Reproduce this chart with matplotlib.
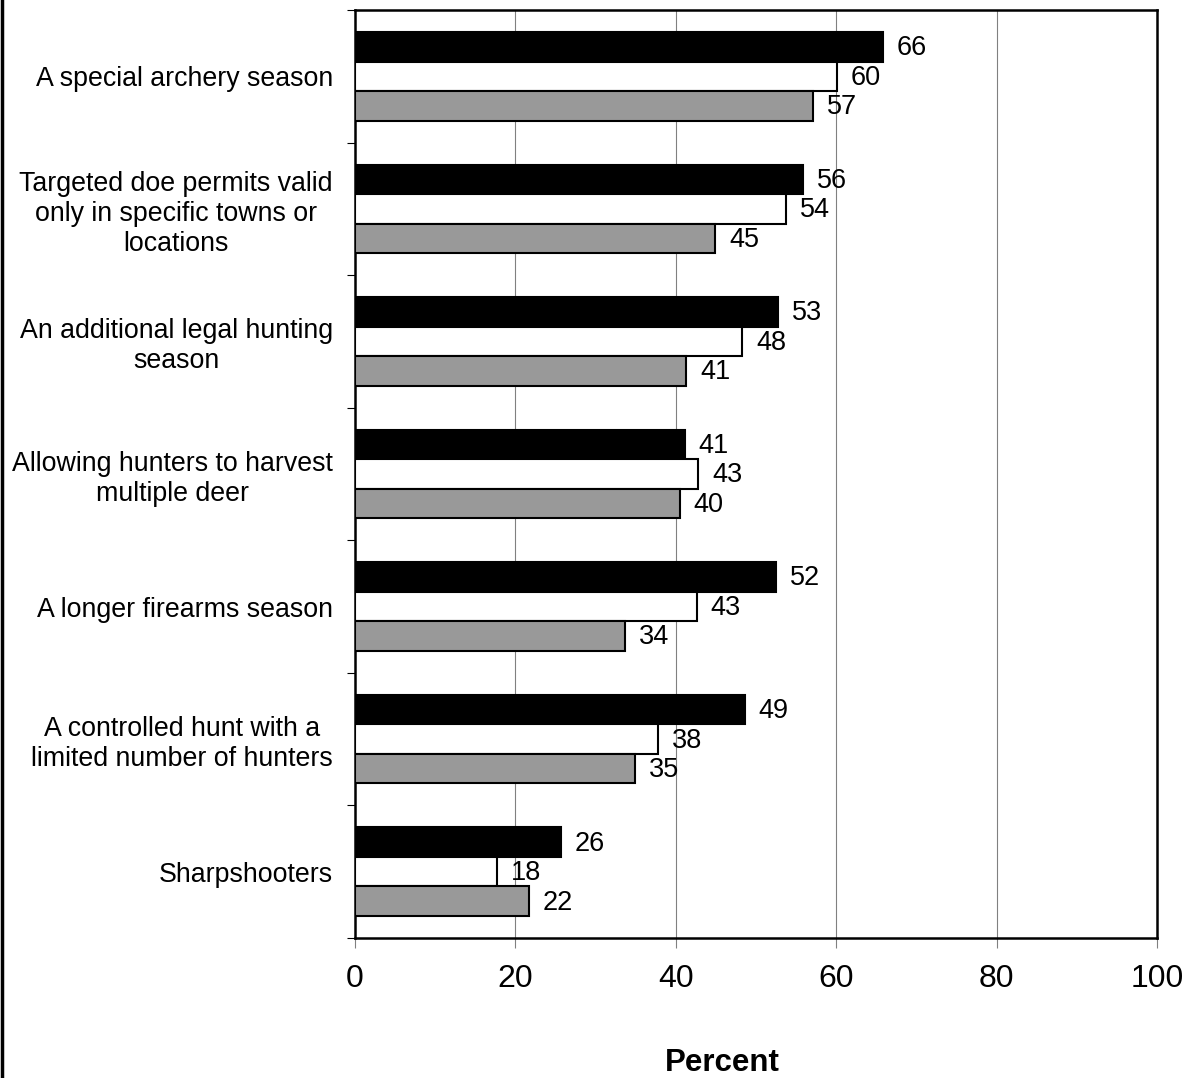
import matplotlib
matplotlib.use("Agg")
import matplotlib.pyplot as plt
import numpy as np

plt.rcParams['font.family'] = ['Liberation Sans', 'DejaVu Sans']

# Categories top to bottom
categories = [
    "A special archery season",
    "Targeted doe permits valid\nonly in specific towns or\nlocations",
    "An additional legal hunting\nseason",
    "Allowing hunters to harvest\nmultiple deer",
    "A longer firearms season",
    "A controlled hunt with a\nlimited number of hunters",
    "Sharpshooters",
]

# Three series (black, white, gray), percent
series_black = [65.8, 55.9, 52.7, 41.1, 52.5, 48.6, 25.7]
series_white = [60.1, 53.7, 48.3, 42.8, 42.6, 37.8, 17.7]
series_gray = [57.1, 44.9, 41.3, 40.5, 33.7, 34.9, 21.7]

x_ticks = [0, 20, 40, 60, 80, 100]

fig = plt.figure(figsize=(11.88, 10.78), dpi=100)
ax = fig.add_axes([355 / 1188, 1 - 938 / 1078, 802 / 1188, 928 / 1078])

n = len(categories)
pos = np.arange(n)
h = 0.2225

series = [(series_black, 'black', -h), (series_white, 'white', 0.0), (series_gray, '#999999', h)]
for vals, color, off in series:
    bars = ax.barh(pos + off, vals, height=h, color=color, edgecolor='black',
                   linewidth=1.5, zorder=3)
    for b, v in zip(bars, vals):
        ax.annotate(f"{v:.0f}", (b.get_width(), b.get_y() + b.get_height() / 2),
                    xytext=(10, -1), textcoords='offset points',
                    ha='left', va='center', fontsize=19.5, zorder=4)

ax.set_xlim(0, 100)
ax.set_ylim(n - 0.5, -0.5)

# x axis: gridlines + gray outward ticks
ax.set_xticks(x_ticks)
ax.set_xticklabels([str(t) for t in x_ticks], fontsize=23)
ax.tick_params(axis='x', direction='out', length=7, width=0.8, color='#808080', pad=12)
for t in x_ticks[1:-1]:
    ax.axvline(t, color='#808080', linewidth=0.8, zorder=1)

# y axis: ticks at category boundaries, labels at centers
ax.set_yticks(np.arange(n + 1) - 0.5)
ax.set_yticklabels([])
ax.tick_params(axis='y', which='major', direction='out', length=6, width=0.8, color='black')
ax.set_yticks(pos, categories, minor=True)
ax.tick_params(axis='y', which='minor', length=0, pad=16, labelsize=19.3)
for lbl in ax.get_yticklabels(minor=True):
    lbl.set_multialignment('center')

for s in ax.spines.values():
    s.set_linewidth(1.8)
    s.set_color('black')

fig.text(722 / 1188, 1 - 1063 / 1078, "Percent", ha='center', va='center',
         fontsize=22.5, fontweight='bold')

# left frame line of the figure
fig.add_artist(plt.Line2D([0.0015, 0.0015], [0, 1], transform=fig.transFigure,
                          color='black', linewidth=2.5))

fig.savefig("out.png", dpi=100)
